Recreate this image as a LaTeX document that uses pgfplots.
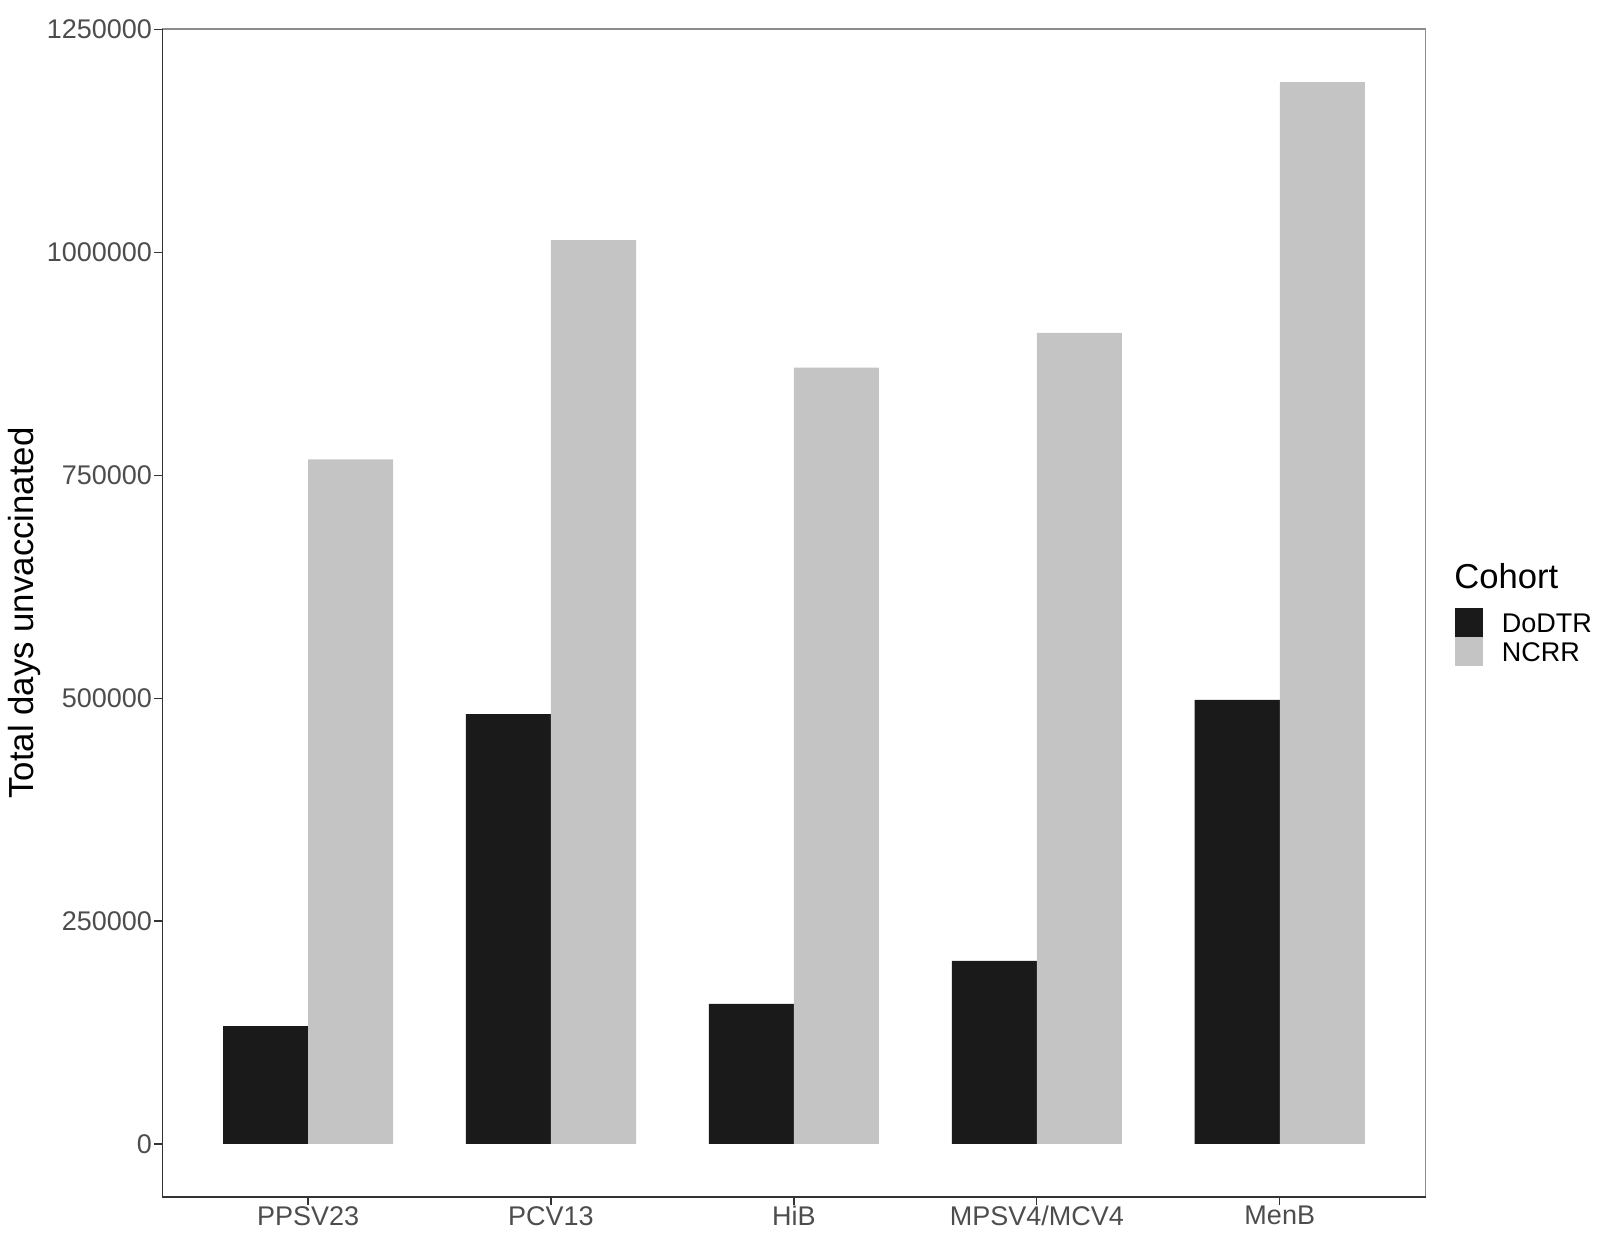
\documentclass[border=0pt]{standalone}
\usepackage{pgfplots}
\pgfplotsset{compat=1.18}
\usepackage{fontspec}
\setmainfont{Liberation Sans}

\definecolor{dodtr}{HTML}{1A1A1A}
\definecolor{ncrr}{HTML}{C4C4C4}
\definecolor{ticktext}{HTML}{4D4D4D}

\begin{document}
\begin{tikzpicture}
    \begin{axis}[
        scale only axis,
        width=631.6pt,
        height=584pt,
        clip=false,
        ybar=0pt,
        bar width=0.35,
        xmin=0.4, xmax=5.6,
        ymin=-59555, ymax=1250655,
        xtick={1,2,3,4,5},
        xticklabels={PPSV23,PCV13,HiB,MPSV4/MCV4,MenB},
        ytick={0,250000,500000,750000,1000000,1250000},
        scaled y ticks=false,
        yticklabel style={/pgf/number format/fixed, /pgf/number format/1000 sep={}},
        /pgf/number format/assume math mode=true,
        tick align=outside,
        xtick pos=left, ytick pos=left,
        major tick length=4pt,
        tick style={draw=black!80, line width=0.6pt},
        ticklabel style={font=\fontsize{13.5}{13.5}\selectfont, text=ticktext},
        xticklabel style={inner sep=0.5pt},
        yticklabel style={inner sep=1pt},
        axis line style={draw=black!45, line width=0.6pt},
        ylabel={Total days unvaccinated},
        every axis y label/.style={at={(axis description cs:-0.1092,0.5)}, rotate=90, anchor=center,
            font=\fontsize{17.4}{17.4}\selectfont},
        legend image code/.code={\fill[#1, draw=none] (0pt,-7.25pt) rectangle (14pt,7.25pt);},
        legend style={at={(axis description cs:1.0233,0.4795)}, anchor=west, draw=none, fill=none,
            inner sep=0pt, outer sep=0pt, row sep=0pt, column sep=9.5pt,
            font=\fontsize{13.5}{13.5}\selectfont,
            nodes={inner sep=0pt, text height=12.1pt, text depth=2.4pt}},
        legend cell align=left,
    ]
        % DoDTR cohort
        \addplot[fill=dodtr, draw=none] coordinates {
            (1,132000) (2,482000) (3,157200) (4,205200) (5,498000)};
        \addlegendentry{DoDTR}
        % NCRR cohort
        \addplot[fill=ncrr, draw=none] coordinates {
            (1,768000) (2,1013800) (3,870900) (4,909800) (5,1191100)};
        \addlegendentry{NCRR}

        \draw[black!80, line width=0.6pt] (rel axis cs:0,1) -- (rel axis cs:0,0) -- (rel axis cs:1,0);
        \node[anchor=west, inner sep=0pt, font=\fontsize{17.3}{17.3}\selectfont]
            at (axis description cs:1.0225,0.5317) {Cohort};
    \end{axis}
    \pgfresetboundingbox
    \path[use as bounding box] (-81.15pt,-21pt) rectangle (717.85pt,598.5pt);
\end{tikzpicture}
\end{document}
